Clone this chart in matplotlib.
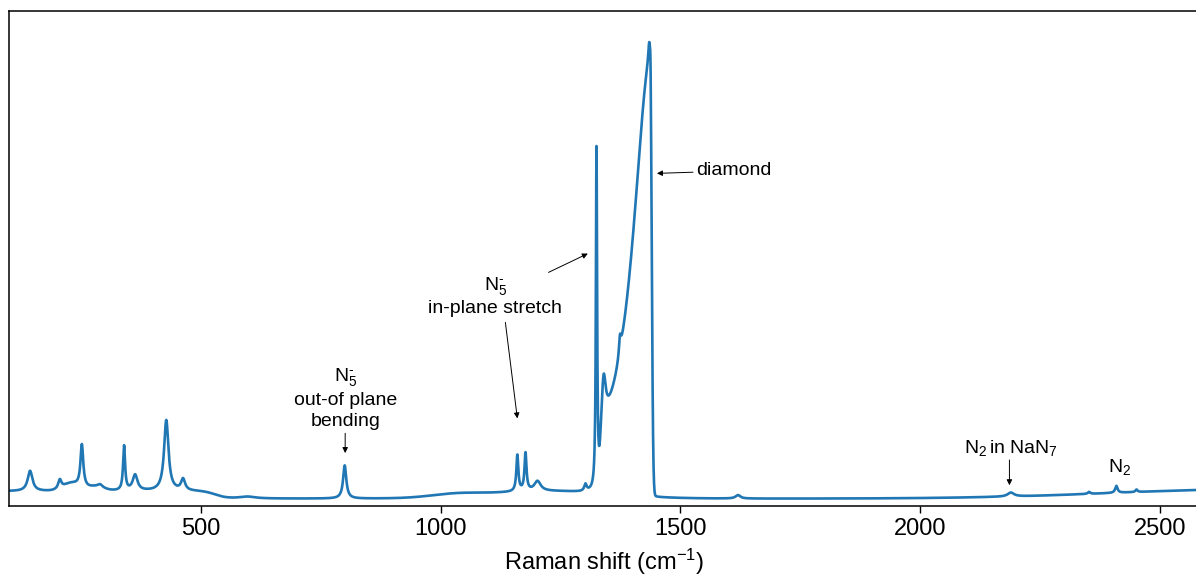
import numpy as np
import matplotlib
matplotlib.use("Agg")
import matplotlib.pyplot as plt

plt.rcParams['font.family'] = ['Liberation Sans', 'DejaVu Sans']
plt.rcParams['mathtext.fontset'] = 'custom'
plt.rcParams['mathtext.rm'] = 'Liberation Sans'
plt.rcParams['mathtext.it'] = 'Liberation Sans'

# Raman shift axis (cm^-1)
shift_min, shift_max = 100, 2580
baseline_level = 1.5

# sharp bands: centre (cm^-1), height, fwhm (cm^-1)
peak_pos = [144, 206, 252, 290, 340, 363, 428, 463, 597, 800,
            1160, 1177, 1202, 1302, 1325, 1340, 1374, 1435, 1620,
            2189, 2352, 2409, 2451]
peak_height = [4.1, 1.8, 8.6, 0.6, 9.0, 3.2, 14.3, 2.3, 0.4, 6.7,
               7.3, 7.6, 2.0, 1.4, 69.0, 9.0, 3.5, 4.5, 0.7,
               0.8, 0.4, 1.4, 0.5]
peak_fwhm = [12, 8, 7, 12, 5, 12, 11, 10, 40, 8,
             5, 5, 16, 6, 3, 10, 5, 5, 12,
             16, 6, 6, 5]

# broad background humps: centre, height, fwhm
hump_pos = [230, 280, 1030, 1220, 2700]
hump_height = [1.5, 0.8, 0.6, 1.5, 1.9]
hump_fwhm = [40, 40, 120, 300, 700]

# low-frequency plateau ending near 530 cm^-1
plateau_height = 1.5
plateau_edge = 530
plateau_step = 12

# stressed diamond anvil band
diamond_top = 1437
diamond_height = 87.5
diamond_width = 44
diamond_onset = 1333
diamond_falloff = 3.0


def lorentz(x, c, h, fwhm):
    g = fwhm / 2.0
    return h * g**2 / ((x - c)**2 + g**2)


def gauss(x, c, h, fwhm):
    return h * np.exp(-4 * np.log(2) * ((x - c) / fwhm)**2)


x = np.arange(shift_min, shift_max + 0.5, 0.5)
y = np.full_like(x, baseline_level)
y += plateau_height / (1 + np.exp((x - plateau_edge) / plateau_step))
for c, h, w in zip(hump_pos, hump_height, hump_fwhm):
    y += gauss(x, c, h, w)
for c, h, w in zip(peak_pos, peak_height, peak_fwhm):
    y += lorentz(x, c, h, w)

# diamond: slow rise on the low side, abrupt cut on the high side
d = diamond_top - x
rise = diamond_height / (1 + (d / diamond_width)**2)
rise /= (1 + np.exp(-(x - diamond_onset) / 2.0))
fall = diamond_height * np.exp(-0.5 * (d / diamond_falloff)**2)
y += np.where(x <= diamond_top, rise, fall)

fig = plt.figure(figsize=(11.96, 5.79), dpi=100)
ax = fig.add_axes([0.0075, 0.126, 0.9945, 0.855])
ax.plot(x, y, color='#2077b4', lw=1.9)

ax.set_xlim(shift_min, shift_max)
ax.set_ylim(0, 100)
ax.set_yticks([])
ax.set_xticks([500, 1000, 1500, 2000, 2500])
ax.tick_params(axis='x', labelsize=17, length=5, width=1, direction='out')
ax.set_xlabel('Raman shift (cm$^{-1}$)', fontsize=17, labelpad=5)
for s in ax.spines.values():
    s.set_linewidth(1.1)

arrow = dict(arrowstyle='-|>', color='black', lw=0.7, mutation_scale=8,
             shrinkA=0, shrinkB=0)
fs = 14
n5 = r'N$_5^{\text{-}}$'

ax.annotate('diamond', xy=(1451, 67.2), xytext=(1532, 67.7),
            fontsize=fs, ha='left', va='center', arrowprops=arrow)

ax.text(1114, 42.5, n5 + '\nin-plane stretch', fontsize=fs,
        ha='center', va='center', linespacing=1.25)
ax.annotate('', xy=(1307, 51.0), xytext=(1225, 47.2), arrowprops=arrow)
ax.annotate('', xy=(1160, 17.7), xytext=(1135, 37.1), arrowprops=arrow)

ax.text(801, 21.8, n5 + '\nout-of plane\nbending', fontsize=fs,
        ha='center', va='center', linespacing=1.3)
ax.annotate('', xy=(801, 10.7), xytext=(801, 14.7), arrowprops=arrow)

ax.text(2190, 11.7, r'N$_2\,$in NaN$_7$', fontsize=fs, ha='center', va='center')
ax.annotate('', xy=(2186, 4.2), xytext=(2186, 9.3), arrowprops=arrow)

ax.text(2415, 7.9, 'N$_2$', fontsize=fs, ha='center', va='center')

fig.savefig('out.png', dpi=100)
